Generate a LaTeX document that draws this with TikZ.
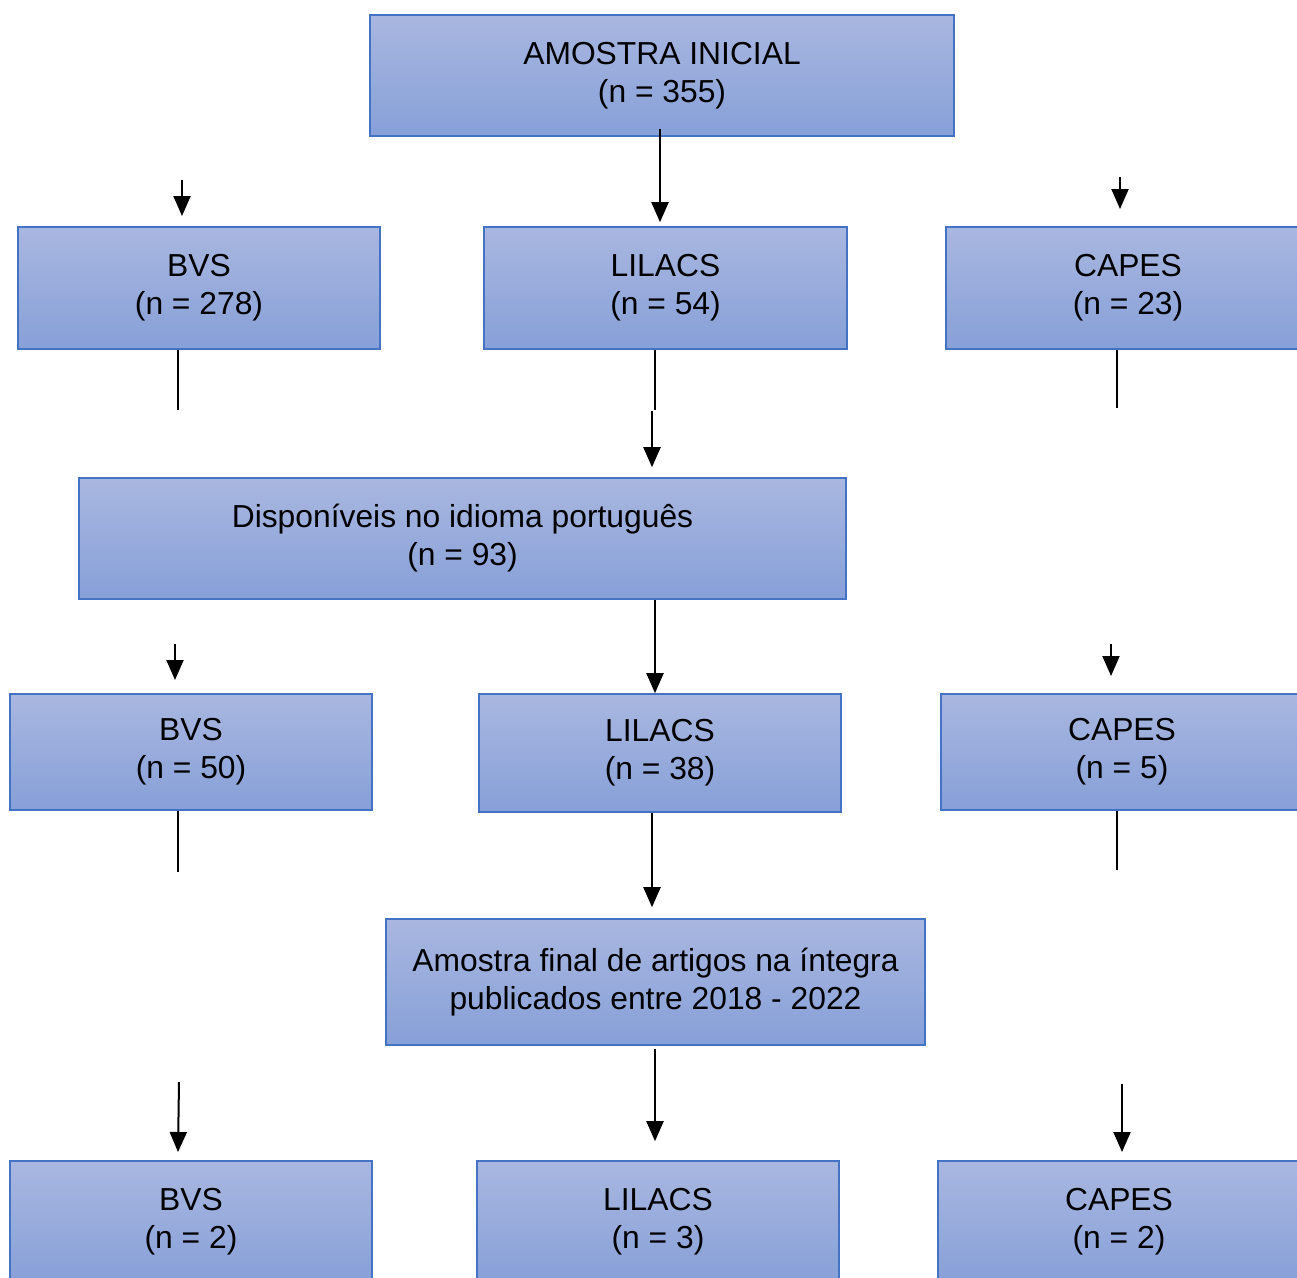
\documentclass[tikz,border=0pt]{standalone}
\usepackage{fontspec}
\setmainfont{Liberation Sans}
\usetikzlibrary{arrows.meta}
\definecolor{boxtop}{HTML}{A9B7E0}
\definecolor{boxbot}{HTML}{87A0D8}
\definecolor{boxline}{HTML}{4472C4}
\tikzset{
  box/.style={rectangle, draw=boxline, line width=1.6pt, top color=boxtop, bottom color=boxbot,
    align=center, inner sep=0pt, font=\fontsize{31.8}{38}\selectfont},
  arr/.style={line width=2pt, -{Triangle[length=20pt,width=17pt]}},
  ln/.style={line width=1.8pt}
}
\begin{document}
\begin{tikzpicture}[x=1pt,y=-1pt]
\useasboundingbox (0,0) rectangle (1297,1277);
\clip (0,0) rectangle (1297,1277);
\fill[white] (0,0) rectangle (1297,1277);
% boxes
\node[box, minimum width=584pt, minimum height=121pt] (A) at (662,75.5) {AMOSTRA INICIAL\\(n = 355)};
\node[box, minimum width=362pt, minimum height=122pt] (B1) at (199,288) {BVS\\(n = 278)};
\node[box, minimum width=363pt, minimum height=122pt] (L1) at (665.5,288) {LILACS\\(n = 54)};
\node[box, minimum width=364pt, minimum height=122pt] (C1) at (1128,288) {CAPES\\(n = 23)};
\node[box, minimum width=767pt, minimum height=121pt] (D) at (462.5,538.5) {Disponíveis no idioma português\\(n = 93)};
\node[box, minimum width=362pt, minimum height=116pt] (B2) at (191,752) {BVS\\(n = 50)};
\node[box, minimum width=362pt, minimum height=118pt] (L2) at (660,753) {LILACS\\(n = 38)};
\node[box, minimum width=362pt, minimum height=116pt] (C2) at (1122,752) {CAPES\\(n = 5)};
\node[box, minimum width=539pt, minimum height=126pt] (F) at (655.5,982) {Amostra final de artigos na íntegra\\publicados entre 2018 - 2022};
\node[box, minimum width=362pt, minimum height=122pt] (B3) at (191,1222) {BVS\\(n = 2)};
\node[box, minimum width=362pt, minimum height=122pt] (L3) at (658,1222) {LILACS\\(n = 3)};
\node[box, minimum width=362pt, minimum height=122pt] (C3) at (1119,1222) {CAPES\\(n = 2)};
% free ends
\coordinate (b1s) at (182,180);
\coordinate (b1t) at (182,216);
\coordinate (c1s) at (1120,177);
\coordinate (c1t) at (1120,209);
\coordinate (b1e) at (178,410);
\coordinate (l1e) at (655,410);
\coordinate (c1e) at (1117,408);
\coordinate (ds) at (652,411);
\coordinate (b2s) at (175,644);
\coordinate (b2t) at (175,680);
\coordinate (c2s) at (1111,644);
\coordinate (c2t) at (1111,676);
\coordinate (b2e) at (178,872);
\coordinate (c2e) at (1117,870);
\coordinate (b3s) at (179,1082);
\coordinate (b3t) at (178,1152);
\coordinate (c3s) at (1122,1084);
\coordinate (c3t) at (1122,1152);
% connectors
\draw[arr] ([xshift=-2pt,yshift=8pt]A.south) -- ([xshift=-5.5pt,yshift=4pt]L1.north);
\draw[arr] (b1s) -- (b1t);
\draw[arr] (c1s) -- (c1t);
\draw[ln] ([xshift=-21pt]B1.south) -- (b1e);
\draw[ln] ([xshift=-10.5pt]L1.south) -- (l1e);
\draw[ln] ([xshift=-11pt]C1.south) -- (c1e);
\draw[arr] (ds) -- ([xshift=189.5pt,yshift=10pt]D.north);
\draw[arr] ([xshift=192.5pt]D.south) -- ([xshift=-5pt]L2.north);
\draw[arr] (b2s) -- (b2t);
\draw[arr] (c2s) -- (c2t);
\draw[ln] ([xshift=-13pt]B2.south) -- (b2e);
\draw[ln] ([xshift=-5pt]C2.south) -- (c2e);
\draw[arr] ([xshift=-8pt]L2.south) -- ([xshift=-3.5pt,yshift=11pt]F.north);
\draw[arr] ([xshift=-0.5pt,yshift=-3pt]F.south) -- ([xshift=-3pt,yshift=19pt]L3.north);
\draw[arr] (b3s) -- (b3t);
\draw[arr] (c3s) -- (c3t);
\end{tikzpicture}
\end{document}
